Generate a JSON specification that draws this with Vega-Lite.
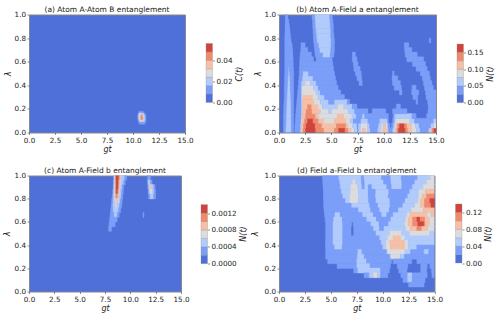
{"$schema":"https://vega.github.io/schema/vega-lite/v6.json","padding":{"left":2,"top":5.5,"right":0,"bottom":0},"background":"white",
"config":{"font":"DejaVu Sans","view":{"stroke":"#888888","strokeWidth":1,"fill":"#4f6fd9"},"axis":{"grid":false,"labelFont":"DejaVu Sans","titleFont":"DejaVu Sans","labelFontSize":7.2,"titleFontSize":8,"titleFontWeight":"normal","titleFontStyle":"italic","labelColor":"#222222","titleColor":"#222222","tickColor":"#444444","tickSize":2,"tickWidth":0.6,"labelPadding":1.5,"titlePadding":2,"domain":false,"labelFlush":false,"labelOverlap":false},"title":{"fontSize":7.5,"fontWeight":"normal","color":"#222222","offset":-3,"font":"DejaVu Sans"}},
"datasets":{
"a":[
{"gt0":10.55,"gt1":11.0,"lam":0.17,"v":0.012},
{"gt0":10.48,"gt1":10.55,"lam":0.155,"v":0.012},{"gt0":10.55,"gt1":10.62,"lam":0.155,"v":0.02},{"gt0":10.62,"gt1":10.8,"lam":0.155,"v":0.028},{"gt0":10.8,"gt1":11.1,"lam":0.155,"v":0.02},{"gt0":11.1,"gt1":11.18,"lam":0.155,"v":0.012},
{"gt0":10.45,"gt1":10.52,"lam":0.14,"v":0.012},{"gt0":10.52,"gt1":10.6,"lam":0.14,"v":0.02},{"gt0":10.6,"gt1":10.68,"lam":0.14,"v":0.028},{"gt0":10.68,"gt1":10.78,"lam":0.14,"v":0.036},{"gt0":10.78,"gt1":10.9,"lam":0.14,"v":0.044},{"gt0":10.9,"gt1":11.0,"lam":0.14,"v":0.036},{"gt0":11.0,"gt1":11.08,"lam":0.14,"v":0.028},{"gt0":11.08,"gt1":11.18,"lam":0.14,"v":0.02},{"gt0":11.18,"gt1":11.25,"lam":0.14,"v":0.012},
{"gt0":10.45,"gt1":10.52,"lam":0.125,"v":0.012},{"gt0":10.52,"gt1":10.6,"lam":0.125,"v":0.02},{"gt0":10.6,"gt1":10.68,"lam":0.125,"v":0.028},{"gt0":10.68,"gt1":10.75,"lam":0.125,"v":0.036},{"gt0":10.75,"gt1":10.95,"lam":0.125,"v":0.044},{"gt0":10.95,"gt1":11.03,"lam":0.125,"v":0.036},{"gt0":11.03,"gt1":11.1,"lam":0.125,"v":0.028},{"gt0":11.1,"gt1":11.18,"lam":0.125,"v":0.02},{"gt0":11.18,"gt1":11.25,"lam":0.125,"v":0.012},
{"gt0":10.47,"gt1":10.54,"lam":0.11,"v":0.012},{"gt0":10.54,"gt1":10.62,"lam":0.11,"v":0.02},{"gt0":10.62,"gt1":10.7,"lam":0.11,"v":0.028},{"gt0":10.7,"gt1":10.8,"lam":0.11,"v":0.036},{"gt0":10.8,"gt1":10.95,"lam":0.11,"v":0.044},{"gt0":10.95,"gt1":11.05,"lam":0.11,"v":0.036},{"gt0":11.05,"gt1":11.12,"lam":0.11,"v":0.028},{"gt0":11.12,"gt1":11.2,"lam":0.11,"v":0.02},{"gt0":11.2,"gt1":11.25,"lam":0.11,"v":0.012},
{"gt0":10.5,"gt1":10.6,"lam":0.095,"v":0.012},{"gt0":10.6,"gt1":10.7,"lam":0.095,"v":0.02},{"gt0":10.7,"gt1":11.05,"lam":0.095,"v":0.028},{"gt0":11.05,"gt1":11.15,"lam":0.095,"v":0.02},{"gt0":11.15,"gt1":11.25,"lam":0.095,"v":0.012},
{"gt0":10.6,"gt1":11.15,"lam":0.08,"v":0.012}],
"c":[
{"gt0":8.35,"gt1":8.4,"lam":0.98,"v":0.0003},{"gt0":8.4,"gt1":8.45,"lam":0.98,"v":0.0005},{"gt0":8.45,"gt1":8.5,"lam":0.98,"v":0.0007},{"gt0":8.5,"gt1":8.55,"lam":0.98,"v":0.0009},{"gt0":8.55,"gt1":8.6,"lam":0.98,"v":0.0011},{"gt0":8.6,"gt1":8.85,"lam":0.98,"v":0.0013},{"gt0":8.85,"gt1":8.95,"lam":0.98,"v":0.0011},{"gt0":8.95,"gt1":9.05,"lam":0.98,"v":0.0009},{"gt0":9.05,"gt1":9.15,"lam":0.98,"v":0.0007},{"gt0":9.15,"gt1":9.45,"lam":0.98,"v":0.0005},{"gt0":9.45,"gt1":9.65,"lam":0.98,"v":0.0003},
{"gt0":8.32,"gt1":8.38,"lam":0.94,"v":0.0003},{"gt0":8.38,"gt1":8.43,"lam":0.94,"v":0.0005},{"gt0":8.43,"gt1":8.48,"lam":0.94,"v":0.0007},{"gt0":8.48,"gt1":8.55,"lam":0.94,"v":0.0009},{"gt0":8.55,"gt1":8.62,"lam":0.94,"v":0.0011},{"gt0":8.62,"gt1":8.82,"lam":0.94,"v":0.0013},{"gt0":8.82,"gt1":8.9,"lam":0.94,"v":0.0011},{"gt0":8.9,"gt1":9.0,"lam":0.94,"v":0.0009},{"gt0":9.0,"gt1":9.1,"lam":0.94,"v":0.0007},{"gt0":9.1,"gt1":9.35,"lam":0.94,"v":0.0005},{"gt0":9.35,"gt1":9.5,"lam":0.94,"v":0.0003},
{"gt0":8.3,"gt1":8.36,"lam":0.9,"v":0.0003},{"gt0":8.36,"gt1":8.42,"lam":0.9,"v":0.0005},{"gt0":8.42,"gt1":8.48,"lam":0.9,"v":0.0007},{"gt0":8.48,"gt1":8.55,"lam":0.9,"v":0.0009},{"gt0":8.55,"gt1":8.62,"lam":0.9,"v":0.0011},{"gt0":8.62,"gt1":8.8,"lam":0.9,"v":0.0013},{"gt0":8.8,"gt1":8.88,"lam":0.9,"v":0.0011},{"gt0":8.88,"gt1":8.96,"lam":0.9,"v":0.0009},{"gt0":8.96,"gt1":9.05,"lam":0.9,"v":0.0007},{"gt0":9.05,"gt1":9.2,"lam":0.9,"v":0.0005},{"gt0":9.2,"gt1":9.35,"lam":0.9,"v":0.0003},
{"gt0":8.25,"gt1":8.34,"lam":0.86,"v":0.0003},{"gt0":8.34,"gt1":8.42,"lam":0.86,"v":0.0005},{"gt0":8.42,"gt1":8.48,"lam":0.86,"v":0.0007},{"gt0":8.48,"gt1":8.56,"lam":0.86,"v":0.0009},{"gt0":8.56,"gt1":8.62,"lam":0.86,"v":0.0011},{"gt0":8.62,"gt1":8.75,"lam":0.86,"v":0.0013},{"gt0":8.75,"gt1":8.84,"lam":0.86,"v":0.0011},{"gt0":8.84,"gt1":8.92,"lam":0.86,"v":0.0009},{"gt0":8.92,"gt1":9.0,"lam":0.86,"v":0.0007},{"gt0":9.0,"gt1":9.15,"lam":0.86,"v":0.0005},{"gt0":9.15,"gt1":9.3,"lam":0.86,"v":0.0003},
{"gt0":8.2,"gt1":8.32,"lam":0.82,"v":0.0003},{"gt0":8.32,"gt1":8.42,"lam":0.82,"v":0.0005},{"gt0":8.42,"gt1":8.52,"lam":0.82,"v":0.0007},{"gt0":8.52,"gt1":8.6,"lam":0.82,"v":0.0009},{"gt0":8.6,"gt1":8.75,"lam":0.82,"v":0.0011},{"gt0":8.75,"gt1":8.86,"lam":0.82,"v":0.0009},{"gt0":8.86,"gt1":8.95,"lam":0.82,"v":0.0007},{"gt0":8.95,"gt1":9.1,"lam":0.82,"v":0.0005},{"gt0":9.1,"gt1":9.25,"lam":0.82,"v":0.0003},
{"gt0":8.15,"gt1":8.3,"lam":0.78,"v":0.0003},{"gt0":8.3,"gt1":8.45,"lam":0.78,"v":0.0005},{"gt0":8.45,"gt1":8.58,"lam":0.78,"v":0.0007},{"gt0":8.58,"gt1":8.72,"lam":0.78,"v":0.0009},{"gt0":8.72,"gt1":8.88,"lam":0.78,"v":0.0007},{"gt0":8.88,"gt1":9.02,"lam":0.78,"v":0.0005},{"gt0":9.02,"gt1":9.2,"lam":0.78,"v":0.0003},
{"gt0":8.1,"gt1":8.28,"lam":0.74,"v":0.0003},{"gt0":8.28,"gt1":8.55,"lam":0.74,"v":0.0005},{"gt0":8.55,"gt1":8.72,"lam":0.74,"v":0.0007},{"gt0":8.72,"gt1":8.95,"lam":0.74,"v":0.0005},{"gt0":8.95,"gt1":9.15,"lam":0.74,"v":0.0003},
{"gt0":8.05,"gt1":8.3,"lam":0.7,"v":0.0003},{"gt0":8.3,"gt1":8.85,"lam":0.7,"v":0.0005},{"gt0":8.85,"gt1":9.05,"lam":0.7,"v":0.0003},
{"gt0":8.0,"gt1":8.4,"lam":0.66,"v":0.0003},{"gt0":8.4,"gt1":8.7,"lam":0.66,"v":0.0005},{"gt0":8.7,"gt1":8.9,"lam":0.66,"v":0.0003},
{"gt0":7.95,"gt1":8.7,"lam":0.62,"v":0.0003},{"gt0":7.9,"gt1":8.5,"lam":0.58,"v":0.0003},{"gt0":7.85,"gt1":8.15,"lam":0.54,"v":0.0003},
{"gt0":11.7,"gt1":12.0,"lam":0.98,"v":0.0003},
{"gt0":11.7,"gt1":11.75,"lam":0.94,"v":0.0003},{"gt0":11.75,"gt1":12.0,"lam":0.94,"v":0.0005},{"gt0":12.0,"gt1":12.15,"lam":0.94,"v":0.0003},
{"gt0":11.72,"gt1":11.8,"lam":0.9,"v":0.0003},{"gt0":11.8,"gt1":11.88,"lam":0.9,"v":0.0005},{"gt0":11.88,"gt1":11.95,"lam":0.9,"v":0.0007},{"gt0":11.95,"gt1":12.1,"lam":0.9,"v":0.0009},{"gt0":12.1,"gt1":12.2,"lam":0.9,"v":0.0007},{"gt0":12.2,"gt1":12.32,"lam":0.9,"v":0.0005},{"gt0":12.32,"gt1":12.45,"lam":0.9,"v":0.0003},
{"gt0":11.75,"gt1":11.85,"lam":0.86,"v":0.0003},{"gt0":11.85,"gt1":11.95,"lam":0.86,"v":0.0005},{"gt0":11.95,"gt1":12.18,"lam":0.86,"v":0.0007},{"gt0":12.18,"gt1":12.35,"lam":0.86,"v":0.0005},{"gt0":12.35,"gt1":12.5,"lam":0.86,"v":0.0003},
{"gt0":11.8,"gt1":11.95,"lam":0.82,"v":0.0003},{"gt0":11.95,"gt1":12.3,"lam":0.82,"v":0.0005},{"gt0":12.3,"gt1":12.5,"lam":0.82,"v":0.0003},
{"gt0":11.25,"gt1":11.35,"lam":0.66,"v":0.0003}],
"b":[
{"gt0":0.42,"gt1":0.65,"lam":0.02,"v":0.0375},{"gt0":0.65,"gt1":1.18,"lam":0.02,"v":0.0625},{"gt0":1.18,"gt1":1.4,"lam":0.02,"v":0.0375},{"gt0":1.5,"gt1":2.05,"lam":0.02,"v":0.0375},{"gt0":2.05,"gt1":2.1,"lam":0.02,"v":0.0625},{"gt0":2.1,"gt1":2.15,"lam":0.02,"v":0.0875},{"gt0":2.15,"gt1":2.3,"lam":0.02,"v":0.1125},{"gt0":2.3,"gt1":2.55,"lam":0.02,"v":0.1375},{"gt0":2.55,"gt1":3.5,"lam":0.02,"v":0.1625},{"gt0":3.5,"gt1":4.3,"lam":0.02,"v":0.1375},{"gt0":4.3,"gt1":5.3,"lam":0.02,"v":0.1125},{"gt0":5.3,"gt1":5.7,"lam":0.02,"v":0.1375},{"gt0":5.7,"gt1":6.3,"lam":0.02,"v":0.1625},{"gt0":6.3,"gt1":6.6,"lam":0.02,"v":0.1375},{"gt0":6.6,"gt1":6.9,"lam":0.02,"v":0.1125},{"gt0":6.9,"gt1":7.2,"lam":0.02,"v":0.0875},{"gt0":7.2,"gt1":7.5,"lam":0.02,"v":0.0625},{"gt0":7.5,"gt1":7.6,"lam":0.02,"v":0.0375},{"gt0":7.6,"gt1":7.77,"lam":0.02,"v":0.0625},{"gt0":7.77,"gt1":8.0,"lam":0.02,"v":0.0875},{"gt0":8.0,"gt1":8.25,"lam":0.02,"v":0.1125},{"gt0":8.25,"gt1":8.47,"lam":0.02,"v":0.0875},{"gt0":8.47,"gt1":8.73,"lam":0.02,"v":0.0625},{"gt0":8.73,"gt1":9.43,"lam":0.02,"v":0.0375},{"gt0":9.43,"gt1":9.75,"lam":0.02,"v":0.0625},{"gt0":9.75,"gt1":9.94,"lam":0.02,"v":0.0875},{"gt0":9.94,"gt1":10.32,"lam":0.02,"v":0.1125},{"gt0":10.32,"gt1":10.38,"lam":0.02,"v":0.0875},{"gt0":10.38,"gt1":10.48,"lam":0.02,"v":0.0625},{"gt0":10.48,"gt1":10.86,"lam":0.02,"v":0.0375},{"gt0":10.86,"gt1":11.0,"lam":0.02,"v":0.0625},{"gt0":11.0,"gt1":11.15,"lam":0.02,"v":0.0875},{"gt0":11.15,"gt1":11.27,"lam":0.02,"v":0.1125},{"gt0":11.27,"gt1":11.43,"lam":0.02,"v":0.1375},{"gt0":11.43,"gt1":12.07,"lam":0.02,"v":0.1625},{"gt0":12.07,"gt1":12.3,"lam":0.02,"v":0.1375},{"gt0":12.3,"gt1":12.7,"lam":0.02,"v":0.1125},{"gt0":12.7,"gt1":13.12,"lam":0.02,"v":0.0875},{"gt0":13.12,"gt1":13.5,"lam":0.02,"v":0.0625},{"gt0":13.5,"gt1":14.3,"lam":0.02,"v":0.0375},{"gt0":14.3,"gt1":14.46,"lam":0.02,"v":0.0625},{"gt0":14.46,"gt1":14.55,"lam":0.02,"v":0.0875},{"gt0":14.55,"gt1":14.65,"lam":0.02,"v":0.1125},{"gt0":14.65,"gt1":14.8,"lam":0.02,"v":0.1375},{"gt0":14.8,"gt1":15,"lam":0.02,"v":0.1625},
{"gt0":0.42,"gt1":0.68,"lam":0.06,"v":0.0375},{"gt0":0.68,"gt1":1.18,"lam":0.06,"v":0.0625},{"gt0":1.18,"gt1":1.4,"lam":0.06,"v":0.0375},{"gt0":1.52,"gt1":2.07,"lam":0.06,"v":0.0375},{"gt0":2.07,"gt1":2.12,"lam":0.06,"v":0.0625},{"gt0":2.12,"gt1":2.17,"lam":0.06,"v":0.0875},{"gt0":2.17,"gt1":2.35,"lam":0.06,"v":0.1125},{"gt0":2.35,"gt1":2.6,"lam":0.06,"v":0.1375},{"gt0":2.6,"gt1":3.45,"lam":0.06,"v":0.1625},{"gt0":3.45,"gt1":4.1,"lam":0.06,"v":0.1375},{"gt0":4.1,"gt1":5.5,"lam":0.06,"v":0.1125},{"gt0":5.5,"gt1":6.4,"lam":0.06,"v":0.1375},{"gt0":6.4,"gt1":6.56,"lam":0.06,"v":0.1125},{"gt0":6.56,"gt1":7.04,"lam":0.06,"v":0.0875},{"gt0":7.04,"gt1":7.45,"lam":0.06,"v":0.0625},{"gt0":7.45,"gt1":7.6,"lam":0.06,"v":0.0375},{"gt0":7.6,"gt1":7.83,"lam":0.06,"v":0.0625},{"gt0":7.83,"gt1":8.47,"lam":0.06,"v":0.0875},{"gt0":8.47,"gt1":8.66,"lam":0.06,"v":0.0625},{"gt0":8.66,"gt1":9.5,"lam":0.06,"v":0.0375},{"gt0":9.5,"gt1":9.8,"lam":0.06,"v":0.0625},{"gt0":9.8,"gt1":10.0,"lam":0.06,"v":0.0875},{"gt0":10.0,"gt1":10.2,"lam":0.06,"v":0.1125},{"gt0":10.2,"gt1":10.32,"lam":0.06,"v":0.0875},{"gt0":10.32,"gt1":10.44,"lam":0.06,"v":0.0625},{"gt0":10.44,"gt1":10.6,"lam":0.06,"v":0.0375},{"gt0":10.75,"gt1":10.95,"lam":0.06,"v":0.0375},{"gt0":10.95,"gt1":11.05,"lam":0.06,"v":0.0625},{"gt0":11.05,"gt1":11.18,"lam":0.06,"v":0.0875},{"gt0":11.18,"gt1":11.34,"lam":0.06,"v":0.1125},{"gt0":11.34,"gt1":11.53,"lam":0.06,"v":0.1375},{"gt0":11.53,"gt1":11.98,"lam":0.06,"v":0.1625},{"gt0":11.98,"gt1":12.23,"lam":0.06,"v":0.1375},{"gt0":12.23,"gt1":12.65,"lam":0.06,"v":0.1125},{"gt0":12.65,"gt1":13.03,"lam":0.06,"v":0.0875},{"gt0":13.03,"gt1":13.4,"lam":0.06,"v":0.0625},{"gt0":13.4,"gt1":14.52,"lam":0.06,"v":0.0375},{"gt0":14.52,"gt1":14.8,"lam":0.06,"v":0.0625},{"gt0":14.8,"gt1":15,"lam":0.06,"v":0.0875},
{"gt0":0.42,"gt1":0.69,"lam":0.1,"v":0.0375},{"gt0":0.69,"gt1":1.17,"lam":0.1,"v":0.0625},{"gt0":1.17,"gt1":1.4,"lam":0.1,"v":0.0375},{"gt0":1.55,"gt1":2.1,"lam":0.1,"v":0.0375},{"gt0":2.1,"gt1":2.15,"lam":0.1,"v":0.0625},{"gt0":2.15,"gt1":2.2,"lam":0.1,"v":0.0875},{"gt0":2.2,"gt1":2.45,"lam":0.1,"v":0.1125},{"gt0":2.45,"gt1":2.74,"lam":0.1,"v":0.1375},{"gt0":2.74,"gt1":3.25,"lam":0.1,"v":0.1625},{"gt0":3.25,"gt1":3.75,"lam":0.1,"v":0.1375},{"gt0":3.75,"gt1":4.27,"lam":0.1,"v":0.1125},{"gt0":4.27,"gt1":5.3,"lam":0.1,"v":0.0875},{"gt0":5.3,"gt1":6.4,"lam":0.1,"v":0.1125},{"gt0":6.4,"gt1":6.8,"lam":0.1,"v":0.0875},{"gt0":6.8,"gt1":7.1,"lam":0.1,"v":0.0625},{"gt0":7.1,"gt1":7.83,"lam":0.1,"v":0.0375},{"gt0":7.83,"gt1":8.5,"lam":0.1,"v":0.0625},{"gt0":8.5,"gt1":9.62,"lam":0.1,"v":0.0375},{"gt0":9.62,"gt1":10.38,"lam":0.1,"v":0.0625},{"gt0":10.38,"gt1":10.45,"lam":0.1,"v":0.0375},{"gt0":10.85,"gt1":11.02,"lam":0.1,"v":0.0375},{"gt0":11.02,"gt1":11.15,"lam":0.1,"v":0.0625},{"gt0":11.15,"gt1":12.5,"lam":0.1,"v":0.0875},{"gt0":12.5,"gt1":12.95,"lam":0.1,"v":0.0625},{"gt0":12.95,"gt1":14.75,"lam":0.1,"v":0.0375},{"gt0":14.75,"gt1":15,"lam":0.1,"v":0.0625},
{"gt0":0.42,"gt1":0.7,"lam":0.14,"v":0.0375},{"gt0":0.7,"gt1":1.17,"lam":0.14,"v":0.0625},{"gt0":1.17,"gt1":1.4,"lam":0.14,"v":0.0375},{"gt0":1.58,"gt1":2.13,"lam":0.14,"v":0.0375},{"gt0":2.13,"gt1":2.18,"lam":0.14,"v":0.0625},{"gt0":2.18,"gt1":2.23,"lam":0.14,"v":0.0875},{"gt0":2.23,"gt1":2.55,"lam":0.14,"v":0.1125},{"gt0":2.55,"gt1":3.47,"lam":0.14,"v":0.1375},{"gt0":3.47,"gt1":3.76,"lam":0.14,"v":0.1125},{"gt0":3.76,"gt1":5.55,"lam":0.14,"v":0.0875},{"gt0":5.55,"gt1":6.2,"lam":0.14,"v":0.1125},{"gt0":6.2,"gt1":6.97,"lam":0.14,"v":0.0875},{"gt0":6.97,"gt1":7.4,"lam":0.14,"v":0.0625},{"gt0":7.4,"gt1":7.95,"lam":0.14,"v":0.0375},{"gt0":7.95,"gt1":8.2,"lam":0.14,"v":0.0625},{"gt0":8.2,"gt1":10.45,"lam":0.14,"v":0.0375},{"gt0":10.9,"gt1":11.05,"lam":0.14,"v":0.0375},{"gt0":11.05,"gt1":12.7,"lam":0.14,"v":0.0625},{"gt0":12.7,"gt1":13.1,"lam":0.14,"v":0.0375},{"gt0":14.1,"gt1":15,"lam":0.14,"v":0.0375},
{"gt0":0.45,"gt1":0.72,"lam":0.18,"v":0.0375},{"gt0":0.72,"gt1":1.16,"lam":0.18,"v":0.0625},{"gt0":1.16,"gt1":1.4,"lam":0.18,"v":0.0375},{"gt0":1.62,"gt1":2.13,"lam":0.18,"v":0.0375},{"gt0":2.13,"gt1":2.2,"lam":0.18,"v":0.0625},{"gt0":2.2,"gt1":2.25,"lam":0.18,"v":0.0875},{"gt0":2.25,"gt1":2.6,"lam":0.18,"v":0.1125},{"gt0":2.6,"gt1":3.15,"lam":0.18,"v":0.1375},{"gt0":3.15,"gt1":3.95,"lam":0.18,"v":0.1125},{"gt0":3.95,"gt1":4.75,"lam":0.18,"v":0.0875},{"gt0":4.75,"gt1":5.06,"lam":0.18,"v":0.0625},{"gt0":5.06,"gt1":6.6,"lam":0.18,"v":0.0875},{"gt0":6.6,"gt1":7.23,"lam":0.18,"v":0.0625},{"gt0":7.23,"gt1":8.5,"lam":0.18,"v":0.0375},{"gt0":8.9,"gt1":10.2,"lam":0.18,"v":0.0375},{"gt0":10.85,"gt1":12.23,"lam":0.18,"v":0.0375},{"gt0":14.23,"gt1":15,"lam":0.18,"v":0.0375},
{"gt0":0.45,"gt1":0.74,"lam":0.22,"v":0.0375},{"gt0":0.74,"gt1":1.15,"lam":0.22,"v":0.0625},{"gt0":1.15,"gt1":1.4,"lam":0.22,"v":0.0375},{"gt0":1.66,"gt1":2.13,"lam":0.22,"v":0.0375},{"gt0":2.13,"gt1":2.2,"lam":0.22,"v":0.0625},{"gt0":2.2,"gt1":2.25,"lam":0.22,"v":0.0875},{"gt0":2.25,"gt1":2.74,"lam":0.22,"v":0.1125},{"gt0":2.74,"gt1":3.1,"lam":0.22,"v":0.1375},{"gt0":3.1,"gt1":3.7,"lam":0.22,"v":0.1125},{"gt0":3.7,"gt1":4.17,"lam":0.22,"v":0.0875},{"gt0":4.17,"gt1":5.6,"lam":0.22,"v":0.0625},{"gt0":5.6,"gt1":6.2,"lam":0.22,"v":0.0875},{"gt0":6.2,"gt1":7.0,"lam":0.22,"v":0.0625},{"gt0":7.0,"gt1":7.45,"lam":0.22,"v":0.0375},{"gt0":11.2,"gt1":11.6,"lam":0.22,"v":0.0375},{"gt0":14.25,"gt1":15,"lam":0.22,"v":0.0375},
{"gt0":0.48,"gt1":0.76,"lam":0.26,"v":0.0375},{"gt0":0.76,"gt1":1.14,"lam":0.26,"v":0.0625},{"gt0":1.14,"gt1":1.4,"lam":0.26,"v":0.0375},{"gt0":1.7,"gt1":2.13,"lam":0.26,"v":0.0375},{"gt0":2.13,"gt1":2.2,"lam":0.26,"v":0.0625},{"gt0":2.2,"gt1":2.25,"lam":0.26,"v":0.0875},{"gt0":2.25,"gt1":3.35,"lam":0.26,"v":0.1125},{"gt0":3.35,"gt1":3.95,"lam":0.26,"v":0.0875},{"gt0":3.95,"gt1":4.75,"lam":0.26,"v":0.0625},{"gt0":4.75,"gt1":5.3,"lam":0.26,"v":0.0375},{"gt0":5.3,"gt1":6.5,"lam":0.26,"v":0.0625},{"gt0":6.5,"gt1":6.75,"lam":0.26,"v":0.0375},{"gt0":13.1,"gt1":13.25,"lam":0.26,"v":0.0375},{"gt0":14.2,"gt1":15,"lam":0.26,"v":0.0375},
{"gt0":0.5,"gt1":0.78,"lam":0.3,"v":0.0375},{"gt0":0.78,"gt1":1.13,"lam":0.3,"v":0.0625},{"gt0":1.13,"gt1":1.4,"lam":0.3,"v":0.0375},{"gt0":1.74,"gt1":2.15,"lam":0.3,"v":0.0375},{"gt0":2.15,"gt1":2.2,"lam":0.3,"v":0.0625},{"gt0":2.2,"gt1":2.3,"lam":0.3,"v":0.0875},{"gt0":2.3,"gt1":3.2,"lam":0.3,"v":0.1125},{"gt0":3.2,"gt1":3.73,"lam":0.3,"v":0.0875},{"gt0":3.73,"gt1":4.36,"lam":0.3,"v":0.0625},{"gt0":4.36,"gt1":6.25,"lam":0.3,"v":0.0375},{"gt0":12.8,"gt1":13.25,"lam":0.3,"v":0.0375},{"gt0":14.05,"gt1":15,"lam":0.3,"v":0.0375},
{"gt0":0.5,"gt1":0.8,"lam":0.34,"v":0.0375},{"gt0":0.8,"gt1":1.11,"lam":0.34,"v":0.0625},{"gt0":1.11,"gt1":1.4,"lam":0.34,"v":0.0375},{"gt0":1.78,"gt1":2.15,"lam":0.34,"v":0.0375},{"gt0":2.15,"gt1":2.2,"lam":0.34,"v":0.0625},{"gt0":2.2,"gt1":3.53,"lam":0.34,"v":0.0875},{"gt0":3.53,"gt1":3.95,"lam":0.34,"v":0.0625},{"gt0":3.95,"gt1":5.9,"lam":0.34,"v":0.0375},{"gt0":11.5,"gt1":11.75,"lam":0.34,"v":0.0375},{"gt0":12.67,"gt1":13.35,"lam":0.34,"v":0.0375},{"gt0":14.0,"gt1":15,"lam":0.34,"v":0.0375},
{"gt0":0.5,"gt1":0.83,"lam":0.38,"v":0.0375},{"gt0":0.83,"gt1":1.09,"lam":0.38,"v":0.0625},{"gt0":1.09,"gt1":1.4,"lam":0.38,"v":0.0375},{"gt0":1.82,"gt1":2.15,"lam":0.38,"v":0.0375},{"gt0":2.15,"gt1":2.2,"lam":0.38,"v":0.0625},{"gt0":2.2,"gt1":3.3,"lam":0.38,"v":0.0875},{"gt0":3.3,"gt1":3.76,"lam":0.38,"v":0.0625},{"gt0":3.76,"gt1":5.65,"lam":0.38,"v":0.0375},{"gt0":11.0,"gt1":11.7,"lam":0.38,"v":0.0375},{"gt0":12.7,"gt1":13.1,"lam":0.38,"v":0.0375},{"gt0":13.9,"gt1":14.75,"lam":0.38,"v":0.0375},
{"gt0":0.52,"gt1":0.85,"lam":0.42,"v":0.0375},{"gt0":0.85,"gt1":1.07,"lam":0.42,"v":0.0625},{"gt0":1.07,"gt1":1.4,"lam":0.42,"v":0.0375},{"gt0":1.86,"gt1":2.15,"lam":0.42,"v":0.0375},{"gt0":2.15,"gt1":2.5,"lam":0.42,"v":0.0625},{"gt0":2.5,"gt1":3.0,"lam":0.42,"v":0.0875},{"gt0":3.0,"gt1":3.57,"lam":0.42,"v":0.0625},{"gt0":3.57,"gt1":5.5,"lam":0.42,"v":0.0375},{"gt0":7.65,"gt1":7.95,"lam":0.42,"v":0.0375},{"gt0":10.85,"gt1":11.6,"lam":0.42,"v":0.0375},{"gt0":13.8,"gt1":14.6,"lam":0.42,"v":0.0375},
{"gt0":0.52,"gt1":0.87,"lam":0.46,"v":0.0375},{"gt0":0.87,"gt1":1.05,"lam":0.46,"v":0.0625},{"gt0":1.05,"gt1":1.4,"lam":0.46,"v":0.0375},{"gt0":1.9,"gt1":2.23,"lam":0.46,"v":0.0375},{"gt0":2.23,"gt1":3.25,"lam":0.46,"v":0.0625},{"gt0":3.25,"gt1":5.4,"lam":0.46,"v":0.0375},{"gt0":7.45,"gt1":7.9,"lam":0.46,"v":0.0375},{"gt0":10.8,"gt1":11.35,"lam":0.46,"v":0.0375},{"gt0":13.7,"gt1":14.45,"lam":0.46,"v":0.0375},
{"gt0":0.55,"gt1":0.9,"lam":0.5,"v":0.0375},{"gt0":0.9,"gt1":1.02,"lam":0.5,"v":0.0625},{"gt0":1.02,"gt1":1.4,"lam":0.5,"v":0.0375},{"gt0":1.93,"gt1":2.3,"lam":0.5,"v":0.0375},{"gt0":2.3,"gt1":2.83,"lam":0.5,"v":0.0625},{"gt0":2.83,"gt1":5.3,"lam":0.5,"v":0.0375},{"gt0":7.3,"gt1":7.85,"lam":0.5,"v":0.0375},{"gt0":10.85,"gt1":11.0,"lam":0.5,"v":0.0375},{"gt0":13.5,"gt1":14.37,"lam":0.5,"v":0.0375},
{"gt0":0.55,"gt1":0.93,"lam":0.54,"v":0.0375},{"gt0":0.93,"gt1":0.98,"lam":0.54,"v":0.0625},{"gt0":0.98,"gt1":1.38,"lam":0.54,"v":0.0375},{"gt0":1.95,"gt1":5.22,"lam":0.54,"v":0.0375},{"gt0":7.15,"gt1":7.75,"lam":0.54,"v":0.0375},{"gt0":13.1,"gt1":14.15,"lam":0.54,"v":0.0375},
{"gt0":0.55,"gt1":1.36,"lam":0.58,"v":0.0375},{"gt0":1.97,"gt1":5.15,"lam":0.58,"v":0.0375},{"gt0":7.1,"gt1":7.55,"lam":0.58,"v":0.0375},{"gt0":12.75,"gt1":14.0,"lam":0.58,"v":0.0375},
{"gt0":0.55,"gt1":1.35,"lam":0.62,"v":0.0375},{"gt0":1.99,"gt1":3.3,"lam":0.62,"v":0.0375},{"gt0":3.55,"gt1":5.08,"lam":0.62,"v":0.0375},{"gt0":7.0,"gt1":7.45,"lam":0.62,"v":0.0375},{"gt0":12.2,"gt1":13.82,"lam":0.62,"v":0.0375},
{"gt0":0.55,"gt1":1.32,"lam":0.66,"v":0.0375},{"gt0":2.02,"gt1":3.1,"lam":0.66,"v":0.0375},{"gt0":3.45,"gt1":4.2,"lam":0.66,"v":0.0375},{"gt0":4.2,"gt1":4.9,"lam":0.66,"v":0.0625},{"gt0":4.9,"gt1":5.25,"lam":0.66,"v":0.0375},{"gt0":7.0,"gt1":7.3,"lam":0.66,"v":0.0375},{"gt0":12.05,"gt1":13.2,"lam":0.66,"v":0.0375},
{"gt0":0.55,"gt1":1.3,"lam":0.7,"v":0.0375},{"gt0":2.08,"gt1":2.75,"lam":0.7,"v":0.0375},{"gt0":3.4,"gt1":3.9,"lam":0.7,"v":0.0375},{"gt0":3.9,"gt1":4.95,"lam":0.7,"v":0.0625},{"gt0":4.95,"gt1":5.3,"lam":0.7,"v":0.0375},{"gt0":12.0,"gt1":12.7,"lam":0.7,"v":0.0375},
{"gt0":0.55,"gt1":1.25,"lam":0.74,"v":0.0375},{"gt0":2.1,"gt1":2.5,"lam":0.74,"v":0.0375},{"gt0":3.35,"gt1":3.8,"lam":0.74,"v":0.0375},{"gt0":3.8,"gt1":4.97,"lam":0.74,"v":0.0625},{"gt0":4.97,"gt1":5.3,"lam":0.74,"v":0.0375},{"gt0":11.97,"gt1":12.4,"lam":0.74,"v":0.0375},
{"gt0":0.55,"gt1":1.15,"lam":0.78,"v":0.0375},{"gt0":3.3,"gt1":3.65,"lam":0.78,"v":0.0375},{"gt0":3.65,"gt1":4.97,"lam":0.78,"v":0.0625},{"gt0":4.97,"gt1":5.3,"lam":0.78,"v":0.0375},{"gt0":14.35,"gt1":14.5,"lam":0.78,"v":0.0375},
{"gt0":0.55,"gt1":1.1,"lam":0.82,"v":0.0375},{"gt0":3.27,"gt1":3.6,"lam":0.82,"v":0.0375},{"gt0":3.6,"gt1":4.95,"lam":0.82,"v":0.0625},{"gt0":4.95,"gt1":5.25,"lam":0.82,"v":0.0375},
{"gt0":0.58,"gt1":1.05,"lam":0.86,"v":0.0375},{"gt0":3.25,"gt1":3.55,"lam":0.86,"v":0.0375},{"gt0":3.55,"gt1":4.95,"lam":0.86,"v":0.0625},{"gt0":4.95,"gt1":5.2,"lam":0.86,"v":0.0375},
{"gt0":0.58,"gt1":1.0,"lam":0.9,"v":0.0375},{"gt0":3.22,"gt1":3.5,"lam":0.9,"v":0.0375},{"gt0":3.5,"gt1":4.92,"lam":0.9,"v":0.0625},{"gt0":4.92,"gt1":5.2,"lam":0.9,"v":0.0375},
{"gt0":0.6,"gt1":0.93,"lam":0.94,"v":0.0375},{"gt0":3.2,"gt1":3.47,"lam":0.94,"v":0.0375},{"gt0":3.47,"gt1":4.88,"lam":0.94,"v":0.0625},{"gt0":4.88,"gt1":5.15,"lam":0.94,"v":0.0375},
{"gt0":0.6,"gt1":0.85,"lam":0.98,"v":0.0375},{"gt0":3.15,"gt1":3.45,"lam":0.98,"v":0.0375},{"gt0":3.45,"gt1":4.85,"lam":0.98,"v":0.0625},{"gt0":4.85,"gt1":5.1,"lam":0.98,"v":0.0375}],
"d":[
{"gt0":4.2,"gt1":5.75,"lam":0.98,"v":0.03},{"gt0":5.75,"gt1":7.94,"lam":0.98,"v":0.05},{"gt0":7.94,"gt1":8.2,"lam":0.98,"v":0.03},{"gt0":8.2,"gt1":9.9,"lam":0.98,"v":0.05},{"gt0":9.9,"gt1":10.75,"lam":0.98,"v":0.03},{"gt0":10.75,"gt1":11.8,"lam":0.98,"v":0.05},{"gt0":11.8,"gt1":13.35,"lam":0.98,"v":0.03},{"gt0":13.35,"gt1":14.6,"lam":0.98,"v":0.05},{"gt0":14.6,"gt1":15,"lam":0.98,"v":0.07},
{"gt0":4.22,"gt1":5.85,"lam":0.94,"v":0.03},{"gt0":5.85,"gt1":7.07,"lam":0.94,"v":0.05},{"gt0":7.07,"gt1":7.4,"lam":0.94,"v":0.07},{"gt0":7.4,"gt1":7.97,"lam":0.94,"v":0.05},{"gt0":7.97,"gt1":8.25,"lam":0.94,"v":0.03},{"gt0":8.25,"gt1":10.1,"lam":0.94,"v":0.05},{"gt0":10.1,"gt1":10.8,"lam":0.94,"v":0.03},{"gt0":10.8,"gt1":11.85,"lam":0.94,"v":0.05},{"gt0":11.85,"gt1":13.1,"lam":0.94,"v":0.03},{"gt0":13.1,"gt1":14.25,"lam":0.94,"v":0.05},{"gt0":14.25,"gt1":15,"lam":0.94,"v":0.07},
{"gt0":4.25,"gt1":5.9,"lam":0.9,"v":0.03},{"gt0":5.9,"gt1":6.9,"lam":0.9,"v":0.05},{"gt0":6.9,"gt1":7.6,"lam":0.9,"v":0.07},{"gt0":7.6,"gt1":8.0,"lam":0.9,"v":0.05},{"gt0":8.0,"gt1":8.26,"lam":0.9,"v":0.03},{"gt0":8.26,"gt1":8.62,"lam":0.9,"v":0.05},{"gt0":8.62,"gt1":8.95,"lam":0.9,"v":0.03},{"gt0":8.95,"gt1":10.4,"lam":0.9,"v":0.05},{"gt0":10.4,"gt1":10.85,"lam":0.9,"v":0.03},{"gt0":10.85,"gt1":11.85,"lam":0.9,"v":0.05},{"gt0":11.85,"gt1":12.85,"lam":0.9,"v":0.03},{"gt0":12.85,"gt1":13.9,"lam":0.9,"v":0.05},{"gt0":13.9,"gt1":15,"lam":0.9,"v":0.07},
{"gt0":4.27,"gt1":6.0,"lam":0.86,"v":0.03},{"gt0":6.0,"gt1":6.87,"lam":0.86,"v":0.05},{"gt0":6.87,"gt1":7.68,"lam":0.86,"v":0.07},{"gt0":7.68,"gt1":8.62,"lam":0.86,"v":0.05},{"gt0":8.62,"gt1":9.32,"lam":0.86,"v":0.03},{"gt0":9.32,"gt1":10.6,"lam":0.86,"v":0.05},{"gt0":10.6,"gt1":12.6,"lam":0.86,"v":0.03},{"gt0":12.6,"gt1":13.5,"lam":0.86,"v":0.05},{"gt0":13.5,"gt1":14.15,"lam":0.86,"v":0.07},{"gt0":14.15,"gt1":15,"lam":0.86,"v":0.09},
{"gt0":4.28,"gt1":6.15,"lam":0.82,"v":0.03},{"gt0":6.15,"gt1":6.85,"lam":0.82,"v":0.05},{"gt0":6.85,"gt1":7.7,"lam":0.82,"v":0.07},{"gt0":7.7,"gt1":8.62,"lam":0.82,"v":0.05},{"gt0":8.62,"gt1":9.3,"lam":0.82,"v":0.03},{"gt0":9.3,"gt1":10.55,"lam":0.82,"v":0.05},{"gt0":10.55,"gt1":12.4,"lam":0.82,"v":0.03},{"gt0":12.4,"gt1":13.45,"lam":0.82,"v":0.05},{"gt0":13.45,"gt1":13.83,"lam":0.82,"v":0.07},{"gt0":13.83,"gt1":14.25,"lam":0.82,"v":0.09},{"gt0":14.25,"gt1":15,"lam":0.82,"v":0.11},
{"gt0":4.3,"gt1":6.4,"lam":0.78,"v":0.03},{"gt0":6.4,"gt1":6.85,"lam":0.78,"v":0.05},{"gt0":6.85,"gt1":7.65,"lam":0.78,"v":0.07},{"gt0":7.65,"gt1":8.65,"lam":0.78,"v":0.05},{"gt0":8.65,"gt1":9.35,"lam":0.78,"v":0.03},{"gt0":9.35,"gt1":10.7,"lam":0.78,"v":0.05},{"gt0":10.7,"gt1":12.15,"lam":0.78,"v":0.03},{"gt0":12.15,"gt1":13.4,"lam":0.78,"v":0.05},{"gt0":13.4,"gt1":13.67,"lam":0.78,"v":0.07},{"gt0":13.67,"gt1":14.05,"lam":0.78,"v":0.09},{"gt0":14.05,"gt1":14.55,"lam":0.78,"v":0.11},{"gt0":14.55,"gt1":15,"lam":0.78,"v":0.13},
{"gt0":4.3,"gt1":7.0,"lam":0.74,"v":0.03},{"gt0":7.0,"gt1":8.75,"lam":0.74,"v":0.05},{"gt0":8.75,"gt1":9.55,"lam":0.74,"v":0.03},{"gt0":9.55,"gt1":10.7,"lam":0.74,"v":0.05},{"gt0":10.7,"gt1":11.93,"lam":0.74,"v":0.03},{"gt0":11.93,"gt1":13.1,"lam":0.74,"v":0.05},{"gt0":13.1,"gt1":13.67,"lam":0.74,"v":0.07},{"gt0":13.67,"gt1":14.05,"lam":0.74,"v":0.09},{"gt0":14.05,"gt1":14.66,"lam":0.74,"v":0.11},{"gt0":14.66,"gt1":15,"lam":0.74,"v":0.13},
{"gt0":4.34,"gt1":7.65,"lam":0.7,"v":0.03},{"gt0":7.65,"gt1":8.85,"lam":0.7,"v":0.05},{"gt0":8.85,"gt1":9.7,"lam":0.7,"v":0.03},{"gt0":9.7,"gt1":10.65,"lam":0.7,"v":0.05},{"gt0":10.65,"gt1":11.5,"lam":0.7,"v":0.03},{"gt0":11.5,"gt1":12.75,"lam":0.7,"v":0.05},{"gt0":12.75,"gt1":13.93,"lam":0.7,"v":0.07},{"gt0":13.93,"gt1":15,"lam":0.7,"v":0.09},
{"gt0":4.4,"gt1":5.4,"lam":0.66,"v":0.03},{"gt0":5.4,"gt1":5.9,"lam":0.66,"v":0.05},{"gt0":5.9,"gt1":8.05,"lam":0.66,"v":0.03},{"gt0":8.05,"gt1":9.1,"lam":0.66,"v":0.05},{"gt0":9.1,"gt1":9.9,"lam":0.66,"v":0.03},{"gt0":9.9,"gt1":10.4,"lam":0.66,"v":0.05},{"gt0":10.4,"gt1":11.0,"lam":0.66,"v":0.03},{"gt0":11.0,"gt1":12.35,"lam":0.66,"v":0.05},{"gt0":12.35,"gt1":12.65,"lam":0.66,"v":0.07},{"gt0":12.65,"gt1":14.25,"lam":0.66,"v":0.09},{"gt0":14.25,"gt1":14.7,"lam":0.66,"v":0.07},{"gt0":14.7,"gt1":15,"lam":0.66,"v":0.09},
{"gt0":4.45,"gt1":5.25,"lam":0.62,"v":0.03},{"gt0":5.25,"gt1":6.1,"lam":0.62,"v":0.05},{"gt0":6.1,"gt1":8.45,"lam":0.62,"v":0.03},{"gt0":8.45,"gt1":9.4,"lam":0.62,"v":0.05},{"gt0":9.4,"gt1":10.77,"lam":0.62,"v":0.03},{"gt0":10.77,"gt1":12.2,"lam":0.62,"v":0.05},{"gt0":12.2,"gt1":12.45,"lam":0.62,"v":0.07},{"gt0":12.45,"gt1":12.9,"lam":0.62,"v":0.09},{"gt0":12.9,"gt1":13.3,"lam":0.62,"v":0.11},{"gt0":13.3,"gt1":13.6,"lam":0.62,"v":0.13},{"gt0":13.6,"gt1":14.08,"lam":0.62,"v":0.11},{"gt0":14.08,"gt1":14.5,"lam":0.62,"v":0.09},{"gt0":14.5,"gt1":15,"lam":0.62,"v":0.07},
{"gt0":4.5,"gt1":5.2,"lam":0.58,"v":0.03},{"gt0":5.2,"gt1":6.15,"lam":0.58,"v":0.05},{"gt0":6.15,"gt1":7.0,"lam":0.58,"v":0.03},{"gt0":7.15,"gt1":8.85,"lam":0.58,"v":0.03},{"gt0":8.85,"gt1":9.65,"lam":0.58,"v":0.05},{"gt0":9.65,"gt1":10.55,"lam":0.58,"v":0.03},{"gt0":10.55,"gt1":12.1,"lam":0.58,"v":0.05},{"gt0":12.1,"gt1":12.45,"lam":0.58,"v":0.07},{"gt0":12.45,"gt1":12.9,"lam":0.58,"v":0.09},{"gt0":12.9,"gt1":13.4,"lam":0.58,"v":0.11},{"gt0":13.4,"gt1":14.0,"lam":0.58,"v":0.13},{"gt0":14.0,"gt1":14.1,"lam":0.58,"v":0.11},{"gt0":14.1,"gt1":14.5,"lam":0.58,"v":0.09},{"gt0":14.5,"gt1":15,"lam":0.58,"v":0.07},
{"gt0":4.5,"gt1":5.2,"lam":0.54,"v":0.03},{"gt0":5.2,"gt1":6.15,"lam":0.54,"v":0.05},{"gt0":6.15,"gt1":6.95,"lam":0.54,"v":0.03},{"gt0":7.2,"gt1":9.1,"lam":0.54,"v":0.03},{"gt0":9.1,"gt1":9.7,"lam":0.54,"v":0.05},{"gt0":9.7,"gt1":10.13,"lam":0.54,"v":0.03},{"gt0":10.13,"gt1":12.2,"lam":0.54,"v":0.05},{"gt0":12.2,"gt1":12.65,"lam":0.54,"v":0.07},{"gt0":12.65,"gt1":13.3,"lam":0.54,"v":0.09},{"gt0":13.3,"gt1":13.76,"lam":0.54,"v":0.11},{"gt0":13.76,"gt1":14.35,"lam":0.54,"v":0.09},{"gt0":14.35,"gt1":15,"lam":0.54,"v":0.07},
{"gt0":4.5,"gt1":5.2,"lam":0.5,"v":0.03},{"gt0":5.2,"gt1":6.15,"lam":0.5,"v":0.05},{"gt0":6.15,"gt1":6.95,"lam":0.5,"v":0.03},{"gt0":7.2,"gt1":9.35,"lam":0.5,"v":0.03},{"gt0":9.35,"gt1":10.7,"lam":0.5,"v":0.05},{"gt0":10.7,"gt1":11.85,"lam":0.5,"v":0.07},{"gt0":11.85,"gt1":12.6,"lam":0.5,"v":0.05},{"gt0":12.6,"gt1":14.55,"lam":0.5,"v":0.07},{"gt0":14.55,"gt1":15,"lam":0.5,"v":0.05},
{"gt0":4.5,"gt1":5.2,"lam":0.46,"v":0.03},{"gt0":5.2,"gt1":6.15,"lam":0.46,"v":0.05},{"gt0":6.15,"gt1":9.7,"lam":0.46,"v":0.03},{"gt0":9.7,"gt1":10.45,"lam":0.46,"v":0.05},{"gt0":10.45,"gt1":11.0,"lam":0.46,"v":0.07},{"gt0":11.0,"gt1":11.7,"lam":0.46,"v":0.09},{"gt0":11.7,"gt1":12.15,"lam":0.46,"v":0.07},{"gt0":12.15,"gt1":15,"lam":0.46,"v":0.05},
{"gt0":4.48,"gt1":5.2,"lam":0.42,"v":0.03},{"gt0":5.2,"gt1":6.15,"lam":0.42,"v":0.05},{"gt0":6.15,"gt1":9.85,"lam":0.42,"v":0.03},{"gt0":9.85,"gt1":10.3,"lam":0.42,"v":0.05},{"gt0":10.3,"gt1":10.7,"lam":0.42,"v":0.07},{"gt0":10.7,"gt1":12.1,"lam":0.42,"v":0.09},{"gt0":12.1,"gt1":12.45,"lam":0.42,"v":0.07},{"gt0":12.45,"gt1":15,"lam":0.42,"v":0.05},
{"gt0":4.48,"gt1":5.35,"lam":0.38,"v":0.03},{"gt0":5.35,"gt1":6.1,"lam":0.38,"v":0.05},{"gt0":6.1,"gt1":10.0,"lam":0.38,"v":0.03},{"gt0":10.0,"gt1":10.3,"lam":0.38,"v":0.05},{"gt0":10.3,"gt1":10.77,"lam":0.38,"v":0.07},{"gt0":10.77,"gt1":12.15,"lam":0.38,"v":0.09},{"gt0":12.15,"gt1":12.45,"lam":0.38,"v":0.07},{"gt0":12.45,"gt1":13.3,"lam":0.38,"v":0.05},{"gt0":13.3,"gt1":15,"lam":0.38,"v":0.03},
{"gt0":4.5,"gt1":7.6,"lam":0.34,"v":0.03},{"gt0":7.6,"gt1":8.0,"lam":0.34,"v":0.05},{"gt0":8.0,"gt1":10.4,"lam":0.34,"v":0.03},{"gt0":10.4,"gt1":10.45,"lam":0.34,"v":0.05},{"gt0":10.45,"gt1":12.15,"lam":0.34,"v":0.07},{"gt0":12.15,"gt1":12.7,"lam":0.34,"v":0.05},{"gt0":12.7,"gt1":14.0,"lam":0.34,"v":0.03},{"gt0":14.0,"gt1":14.45,"lam":0.34,"v":0.05},{"gt0":14.45,"gt1":15,"lam":0.34,"v":0.03},
{"gt0":4.5,"gt1":7.55,"lam":0.3,"v":0.03},{"gt0":7.55,"gt1":8.23,"lam":0.3,"v":0.05},{"gt0":8.23,"gt1":10.7,"lam":0.3,"v":0.03},{"gt0":10.7,"gt1":10.8,"lam":0.3,"v":0.05},{"gt0":10.8,"gt1":11.7,"lam":0.3,"v":0.07},{"gt0":11.7,"gt1":12.1,"lam":0.3,"v":0.05},{"gt0":12.1,"gt1":15,"lam":0.3,"v":0.03},
{"gt0":4.7,"gt1":7.5,"lam":0.26,"v":0.03},{"gt0":7.5,"gt1":8.45,"lam":0.26,"v":0.05},{"gt0":8.45,"gt1":10.85,"lam":0.26,"v":0.03},{"gt0":11.0,"gt1":12.8,"lam":0.26,"v":0.03},{"gt0":13.3,"gt1":15,"lam":0.26,"v":0.03},
{"gt0":5.6,"gt1":7.5,"lam":0.22,"v":0.03},{"gt0":7.5,"gt1":8.78,"lam":0.22,"v":0.05},{"gt0":8.78,"gt1":10.75,"lam":0.22,"v":0.03},{"gt0":11.4,"gt1":12.43,"lam":0.22,"v":0.03},{"gt0":13.67,"gt1":14.3,"lam":0.22,"v":0.03},{"gt0":14.55,"gt1":15,"lam":0.22,"v":0.03},
{"gt0":7.2,"gt1":7.6,"lam":0.18,"v":0.03},{"gt0":7.6,"gt1":9.8,"lam":0.18,"v":0.05},{"gt0":9.8,"gt1":10.65,"lam":0.18,"v":0.03},{"gt0":11.55,"gt1":12.35,"lam":0.18,"v":0.03},{"gt0":13.67,"gt1":14.25,"lam":0.18,"v":0.03},{"gt0":14.7,"gt1":15,"lam":0.18,"v":0.03},
{"gt0":8.2,"gt1":8.7,"lam":0.14,"v":0.03},{"gt0":8.7,"gt1":9.1,"lam":0.14,"v":0.05},{"gt0":9.1,"gt1":9.5,"lam":0.14,"v":0.07},{"gt0":9.5,"gt1":9.8,"lam":0.14,"v":0.05},{"gt0":9.8,"gt1":10.5,"lam":0.14,"v":0.03},{"gt0":11.75,"gt1":12.4,"lam":0.14,"v":0.03},{"gt0":12.4,"gt1":12.85,"lam":0.14,"v":0.05},{"gt0":12.85,"gt1":14.3,"lam":0.14,"v":0.03},{"gt0":14.75,"gt1":15,"lam":0.14,"v":0.03},
{"gt0":11.95,"gt1":12.4,"lam":0.1,"v":0.03},{"gt0":12.4,"gt1":12.85,"lam":0.1,"v":0.05},{"gt0":12.85,"gt1":14.1,"lam":0.1,"v":0.03},
{"gt0":12.5,"gt1":14.0,"lam":0.06,"v":0.03}],
"cba":[{"lo":0,"hi":0.008,"v":0.004},{"lo":0.008,"hi":0.016,"v":0.012},{"lo":0.016,"hi":0.024,"v":0.02},{"lo":0.024,"hi":0.032,"v":0.028},{"lo":0.032,"hi":0.04,"v":0.036},{"lo":0.04,"hi":0.048,"v":0.044},{"lo":0.048,"hi":0.056,"v":0.052}],
"cbb":[{"lo":0,"hi":0.025,"v":0.0125},{"lo":0.025,"hi":0.05,"v":0.0375},{"lo":0.05,"hi":0.075,"v":0.0625},{"lo":0.075,"hi":0.1,"v":0.0875},{"lo":0.1,"hi":0.125,"v":0.1125},{"lo":0.125,"hi":0.15,"v":0.1375},{"lo":0.15,"hi":0.175,"v":0.1625}],
"cbc":[{"lo":0,"hi":0.0002,"v":0.0001},{"lo":0.0002,"hi":0.0004,"v":0.0003},{"lo":0.0004,"hi":0.0006,"v":0.0005},{"lo":0.0006,"hi":0.0008,"v":0.0007},{"lo":0.0008,"hi":0.001,"v":0.0009},{"lo":0.001,"hi":0.0012,"v":0.0011},{"lo":0.0012,"hi":0.0014,"v":0.0013}],
"cbd":[{"lo":0,"hi":0.02,"v":0.01},{"lo":0.02,"hi":0.04,"v":0.03},{"lo":0.04,"hi":0.06,"v":0.05},{"lo":0.06,"hi":0.08,"v":0.07},{"lo":0.08,"hi":0.1,"v":0.09},{"lo":0.1,"hi":0.12,"v":0.11},{"lo":0.12,"hi":0.14,"v":0.13}]
},
"resolve":{"scale":{"color":"independent","stroke":"independent"}},
"hconcat":[
{"resolve":{"scale":{"color":"independent","stroke":"independent"}},"vconcat":[
{"resolve":{"scale":{"color":"independent","stroke":"independent"}},"hconcat":[
{"title":"(a) Atom A-Atom B entanglement","width":156,"height":118,"data":{"name":"a"},"mark":{"type":"rect","height":2.2,"clip":true,"strokeWidth":0.4},"encoding":{"x":{"field":"gt0","type":"quantitative","scale":{"domain":[0,15],"nice":false},"axis":{"title":"gt","values":[0,2.5,5,7.5,10,12.5,15],"format":".1f"}},"x2":{"field":"gt1"},"y":{"field":"lam","type":"quantitative","scale":{"domain":[0,1],"nice":false},"axis":{"title":"λ","values":[0,0.2,0.4,0.6,0.8,1],"format":".1f"}},"color":{"field":"v","type":"quantitative","legend":null,"scale":{"type":"threshold","domain":[0.008,0.016,0.024,0.032,0.04,0.048],"range":["#4f6fd9","#7b9ff9","#b1cbfc","#dddcdc","#f6bfa6","#f08a6c","#cf453c"]}},"stroke":{"field":"v","type":"quantitative","legend":null,"scale":{"type":"threshold","domain":[0.008,0.016,0.024,0.032,0.04,0.048],"range":["#4f6fd9","#7b9ff9","#b1cbfc","#dddcdc","#f6bfa6","#f08a6c","#cf453c"]}}}},
{"width":6.5,"height":118,"view":{"fill":null,"stroke":null},"data":{"name":"cba"},"mark":{"type":"rect","stroke":"#888888","strokeWidth":0.3},"encoding":{"y":{"field":"lo","type":"quantitative","scale":{"domain":[-0.0285,0.0835],"nice":false},"axis":{"orient":"right","title":"C(t)","titleAngle":270,"titleBaseline":"top","titlePadding":3,"values":[0,0.02,0.04],"format":".2f"}},"y2":{"field":"hi"},"color":{"field":"v","type":"quantitative","legend":null,"scale":{"type":"threshold","domain":[0.008,0.016,0.024,0.032,0.04,0.048],"range":["#4f6fd9","#7b9ff9","#b1cbfc","#dddcdc","#f6bfa6","#f08a6c","#cf453c"]}}}}
],"spacing":11},
{"resolve":{"scale":{"color":"independent","stroke":"independent"}},"hconcat":[
{"title":"(c) Atom A-Field b entanglement","width":152,"height":116,"data":{"name":"c"},"mark":{"type":"rect","height":5,"clip":true,"strokeWidth":0.4},"encoding":{"x":{"field":"gt0","type":"quantitative","scale":{"domain":[0,15],"nice":false},"axis":{"title":"gt","values":[0,2.5,5,7.5,10,12.5,15],"format":".1f"}},"x2":{"field":"gt1"},"y":{"field":"lam","type":"quantitative","scale":{"domain":[0,1],"nice":false},"axis":{"title":"λ","titlePadding":3,"values":[0,0.2,0.4,0.6,0.8,1],"format":".1f"}},"color":{"field":"v","type":"quantitative","legend":null,"scale":{"type":"threshold","domain":[0.0002,0.0004,0.0006,0.0008,0.001,0.0012],"range":["#4f6fd9","#7b9ff9","#b1cbfc","#dddcdc","#f6bfa6","#f08a6c","#cf453c"]}},"stroke":{"field":"v","type":"quantitative","legend":null,"scale":{"type":"threshold","domain":[0.0002,0.0004,0.0006,0.0008,0.001,0.0012],"range":["#4f6fd9","#7b9ff9","#b1cbfc","#dddcdc","#f6bfa6","#f08a6c","#cf453c"]}}}},
{"width":6.5,"height":116,"view":{"fill":null,"stroke":null},"data":{"name":"cbc"},"mark":{"type":"rect","stroke":"#888888","strokeWidth":0.3},"encoding":{"y":{"field":"lo","type":"quantitative","scale":{"domain":[-0.00066,0.00209],"nice":false},"axis":{"orient":"right","title":"N(t)","titleAngle":270,"titleBaseline":"top","titlePadding":3,"values":[0,0.0004,0.0008,0.0012],"format":".4f"}},"y2":{"field":"hi"},"color":{"field":"v","type":"quantitative","legend":null,"scale":{"type":"threshold","domain":[0.0002,0.0004,0.0006,0.0008,0.001,0.0012],"range":["#4f6fd9","#7b9ff9","#b1cbfc","#dddcdc","#f6bfa6","#f08a6c","#cf453c"]}}}}
],"spacing":10}
],"spacing":12},
{"resolve":{"scale":{"color":"independent","stroke":"independent"}},"vconcat":[
{"resolve":{"scale":{"color":"independent","stroke":"independent"}},"hconcat":[
{"title":"(b) Atom A-Field a entanglement","width":157,"height":118,"data":{"name":"b"},"mark":{"type":"rect","height":5,"clip":true,"strokeWidth":0.4},"encoding":{"x":{"field":"gt0","type":"quantitative","scale":{"domain":[0,15],"nice":false},"axis":{"title":"gt","values":[0,2.5,5,7.5,10,12.5,15],"format":".1f"}},"x2":{"field":"gt1"},"y":{"field":"lam","type":"quantitative","scale":{"domain":[0,1],"nice":false},"axis":{"title":"λ","values":[0,0.2,0.4,0.6,0.8,1],"format":".1f"}},"color":{"field":"v","type":"quantitative","legend":null,"scale":{"type":"threshold","domain":[0.025,0.05,0.075,0.1,0.125,0.15],"range":["#4f6fd9","#7b9ff9","#b1cbfc","#dddcdc","#f6bfa6","#f08a6c","#cf453c"]}},"stroke":{"field":"v","type":"quantitative","legend":null,"scale":{"type":"threshold","domain":[0.025,0.05,0.075,0.1,0.125,0.15],"range":["#4f6fd9","#7b9ff9","#b1cbfc","#dddcdc","#f6bfa6","#f08a6c","#cf453c"]}}}},
{"width":6.5,"height":118,"view":{"fill":null,"stroke":null},"data":{"name":"cbb"},"mark":{"type":"rect","stroke":"#888888","strokeWidth":0.3},"encoding":{"y":{"field":"lo","type":"quantitative","scale":{"domain":[-0.089,0.263],"nice":false},"axis":{"orient":"right","title":"N(t)","titleAngle":270,"titleBaseline":"top","titlePadding":3,"values":[0,0.05,0.1,0.15],"format":".2f"}},"y2":{"field":"hi"},"color":{"field":"v","type":"quantitative","legend":null,"scale":{"type":"threshold","domain":[0.025,0.05,0.075,0.1,0.125,0.15],"range":["#4f6fd9","#7b9ff9","#b1cbfc","#dddcdc","#f6bfa6","#f08a6c","#cf453c"]}}}}
],"spacing":11},
{"resolve":{"scale":{"color":"independent","stroke":"independent"}},"hconcat":[
{"title":"(d) Field a-Field b entanglement","width":155.5,"height":116,"data":{"name":"d"},"mark":{"type":"rect","height":5,"clip":true,"strokeWidth":0.4},"encoding":{"x":{"field":"gt0","type":"quantitative","scale":{"domain":[0,15],"nice":false},"axis":{"title":"gt","values":[0,2.5,5,7.5,10,12.5,15],"format":".1f"}},"x2":{"field":"gt1"},"y":{"field":"lam","type":"quantitative","scale":{"domain":[0,1],"nice":false},"axis":{"title":"λ","titlePadding":5,"values":[0,0.2,0.4,0.6,0.8,1],"format":".1f"}},"color":{"field":"v","type":"quantitative","legend":null,"scale":{"type":"threshold","domain":[0.02,0.04,0.06,0.08,0.1,0.12],"range":["#4f6fd9","#7b9ff9","#b1cbfc","#dddcdc","#f6bfa6","#f08a6c","#cf453c"]}},"stroke":{"field":"v","type":"quantitative","legend":null,"scale":{"type":"threshold","domain":[0.02,0.04,0.06,0.08,0.1,0.12],"range":["#4f6fd9","#7b9ff9","#b1cbfc","#dddcdc","#f6bfa6","#f08a6c","#cf453c"]}}}},
{"width":6.5,"height":116,"view":{"fill":null,"stroke":null},"data":{"name":"cbd"},"mark":{"type":"rect","stroke":"#888888","strokeWidth":0.3},"encoding":{"y":{"field":"lo","type":"quantitative","scale":{"domain":[-0.0676,0.2076],"nice":false},"axis":{"orient":"right","title":"N(t)","titleAngle":270,"titleBaseline":"top","titlePadding":3,"values":[0,0.04,0.08,0.12],"format":".2f"}},"y2":{"field":"hi"},"color":{"field":"v","type":"quantitative","legend":null,"scale":{"type":"threshold","domain":[0.02,0.04,0.06,0.08,0.1,0.12],"range":["#4f6fd9","#7b9ff9","#b1cbfc","#dddcdc","#f6bfa6","#f08a6c","#cf453c"]}}}}
],"spacing":10.5}
],"spacing":12}
],"spacing":2}
